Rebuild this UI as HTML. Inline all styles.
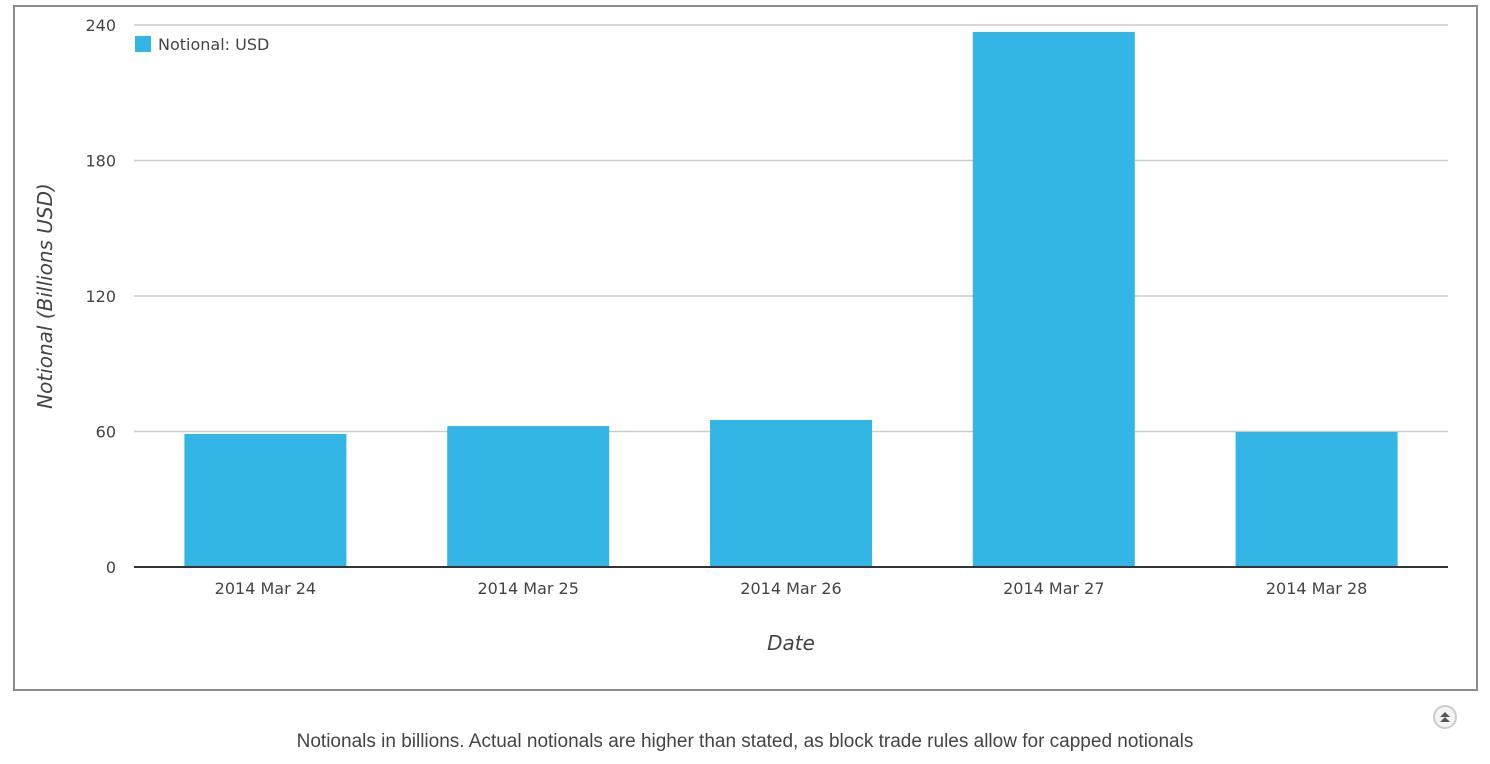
<!DOCTYPE html>
<html><head><meta charset="utf-8"><style>
body{margin:0;background:#fff;width:1490px;height:764px;overflow:hidden;font-family:"DejaVu Sans","Liberation Sans",sans-serif;}
#frame{position:absolute;left:13px;top:5px;width:1461px;height:682px;border:2px solid #8a8a8a;}
#caption{position:absolute;left:0;width:1490px;top:731px;text-align:center;font-size:19px;color:#444;font-family:"Liberation Sans",sans-serif;}
#up{position:absolute;left:1433px;top:705px;width:24px;height:24px;border-radius:50%;border:2px solid #ccc;box-sizing:border-box;background:#f4f4f4;}
</style></head><body>
<div id="frame"></div>
<svg id="chart" width="1490" height="764" style="position:absolute;left:0;top:0">
<g id="grid"></g><g id="bars"></g><g id="labels"></g>
<rect x="135" y="36" width="16" height="16" fill="#33b5e5"/>
<text x="158" y="50" font-size="16" fill="#444">Notional: USD</text>
<text x="791" y="650" font-size="20" font-style="italic" fill="#444" text-anchor="middle">Date</text>
<text transform="translate(52,296) rotate(-90)" font-size="20" font-style="italic" fill="#444" text-anchor="middle">Notional (Billions USD)</text>
</svg>
<div id="up"><svg width="20" height="20" style="position:absolute;left:0;top:0"><path d="M5 10 L10 5 L15 10Z M5 15 L10 10 L15 15Z" fill="#555"/></svg></div>
<div id="caption">Notionals in billions. Actual notionals are higher than stated, as block trade rules allow for capped notionals</div>
<script>
const categories=["2014 Mar 24","2014 Mar 25","2014 Mar 26","2014 Mar 27","2014 Mar 28"];
const values=[58.9,62.4,65.1,236.9,59.8];
const yTicks=[0,60,120,180,240];
const X0=134,X1=1448,Y0=567,Y1=25,YMAX=240;
const ns="http://www.w3.org/2000/svg";
function y(v){return Y0-(v/YMAX)*(Y0-Y1);}
const bw=(X1-X0)/categories.length;
function xc(i){return X0+bw*(i+0.5);}
const grid=document.getElementById('grid'),bars=document.getElementById('bars'),labels=document.getElementById('labels');
yTicks.forEach(t=>{
 if(t>0){const l=document.createElementNS(ns,'line');
 
 
 l.setAttribute('x1',X0);l.setAttribute('x2',X1);l.setAttribute('y1',y(t));l.setAttribute('y2',y(t));l.setAttribute('stroke','#ccc');l.setAttribute('stroke-width','1.5');grid.appendChild(l);}
 const tx=document.createElementNS(ns,'text');
 
 
 tx.setAttribute('x',116);tx.setAttribute('y',y(t)+6);tx.setAttribute('text-anchor','end');tx.setAttribute('font-size','16');tx.setAttribute('fill','#444');tx.textContent=t;labels.appendChild(tx);
});
values.forEach((v,i)=>{
 const r=document.createElementNS(ns,'rect');
 
 
 r.setAttribute('x',xc(i)-81);r.setAttribute('width',162);r.setAttribute('y',y(v));r.setAttribute('height',Y0-y(v));r.setAttribute('fill','#33b5e5');bars.appendChild(r);
 const tx=document.createElementNS(ns,'text');
 
 
 tx.setAttribute('x',xc(i));tx.setAttribute('y',594);tx.setAttribute('text-anchor','middle');tx.setAttribute('font-size','16');tx.setAttribute('fill','#444');tx.textContent=categories[i];labels.appendChild(tx);
});
const ax=document.createElementNS(ns,'line');


ax.setAttribute('x1',X0);ax.setAttribute('x2',X1);ax.setAttribute('y1',Y0);ax.setAttribute('y2',Y0);ax.setAttribute('stroke','#333');ax.setAttribute('stroke-width','2');labels.appendChild(ax);
</script>
</body></html>
